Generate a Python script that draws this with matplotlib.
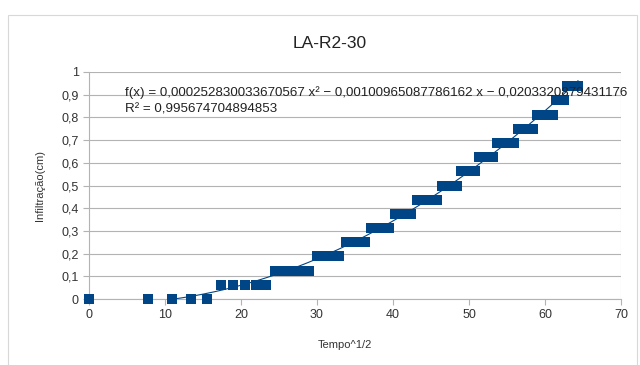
import matplotlib
matplotlib.use("Agg")
import matplotlib.pyplot as plt
from matplotlib.patches import Rectangle
import numpy as np

plt.rcParams['font.family'] = ['Liberation Sans', 'DejaVu Sans']

# data: x = Tempo^1/2, y = Infiltração (cm)
tempo_sqrt = [0, 7.75, 10.95, 13.42, 15.49, 17.32, 18.97, 20.49, 21.91, 23.24,
              24.49, 25.69, 26.83, 27.93, 28.98, 30.00, 30.98, 31.94, 32.86, 33.76,
              34.64, 35.50, 36.33, 37.15, 37.95, 38.73, 39.50, 40.25, 40.99, 41.71,
              42.43, 43.13, 43.82, 44.50, 45.17, 45.83, 46.48, 47.12, 47.75, 48.37,
              48.99, 49.60, 50.20, 50.79, 51.38, 51.96, 52.54, 53.10, 53.67, 54.22,
              54.77, 55.32, 55.86, 56.39, 56.92, 57.45, 57.97, 58.48, 58.99, 59.50,
              60.00, 60.50, 60.99, 61.48, 61.97, 62.45, 62.93, 63.40, 63.87, 64.34]
infiltracao = [0, 0, 0, 0, 0,
               0.0625, 0.0625, 0.0625, 0.0625, 0.0625,
               0.125, 0.125, 0.125, 0.125, 0.125,
               0.1875, 0.1875, 0.1875, 0.1875,
               0.25, 0.25, 0.25, 0.25,
               0.3125, 0.3125, 0.3125, 0.3125,
               0.375, 0.375, 0.375, 0.375,
               0.4375, 0.4375, 0.4375, 0.4375, 0.4375,
               0.5, 0.5, 0.5, 0.5,
               0.5625, 0.5625, 0.5625, 0.5625,
               0.625, 0.625, 0.625, 0.625,
               0.6875, 0.6875, 0.6875, 0.6875, 0.6875,
               0.75, 0.75, 0.75, 0.75, 0.75,
               0.8125, 0.8125, 0.8125, 0.8125, 0.8125,
               0.875, 0.875, 0.875,
               0.9375, 0.9375, 0.9375, 0.9375]
# trendline coefficients (as shown in the chart)
coef_a = 0.000252830033670567
coef_b = -0.00100965087786162
coef_c = -0.0203320879431176
eq_line1 = 'f(x) = 0,000252830033670567 x² − 0,00100965087786162 x − 0,0203320879431176'
eq_line2 = 'R² = 0,995674704894853'

x_ticks = [0, 10, 20, 30, 40, 50, 60, 70]
y_ticks = [0, 0.1, 0.2, 0.3, 0.4, 0.5, 0.6, 0.7, 0.8, 0.9, 1]

W, H = 640, 365
fig = plt.figure(figsize=(W / 100, H / 100), dpi=100)
fig.patch.set_facecolor('white')
fig.patches.append(Rectangle((8 / W, -0.01), 629 / W, (H - 15) / H + 0.01,
                             transform=fig.transFigure, fill=False,
                             edgecolor='#d8d8d8', linewidth=0.8))

ax = fig.add_axes([89 / W, 66 / H, 532 / W, 227 / H])
blue = '#004586'
ax.scatter(tempo_sqrt, infiltracao, marker='s', s=62, color=blue, zorder=3,
           clip_on=False, linewidths=0)
xt = np.linspace(min(tempo_sqrt), max(tempo_sqrt), 300)
yt = coef_a * xt ** 2 + coef_b * xt + coef_c
ax.plot(xt, yt, color=blue, linewidth=0.8, zorder=2)

ax.set_xlim(0, 70)
ax.set_ylim(0, 1)
ax.set_xticks(x_ticks)
ax.set_yticks(y_ticks)
ax.set_xticklabels([str(v) for v in x_ticks])
ax.set_yticklabels([('%g' % v).replace('.', ',') for v in y_ticks])
ax.grid(axis='y', color='#b3b3b3', linewidth=0.8)
ax.set_axisbelow(True)
for s in ['top', 'right']:
    ax.spines[s].set_visible(False)
ax.spines['left'].set_color('#b3b3b3')
ax.spines['bottom'].set_color('#b3b3b3')
ax.tick_params(axis='both', colors='#b3b3b3', labelcolor='#333333', labelsize=9,
               length=4, width=0.8)
ax.axvline(70, color='#d0d0d0', linewidth=0.8)

fig.text(330 / W, 1 - 43 / H, 'LA-R2-30', ha='center', va='center', fontsize=12.5,
         color='#222222')
ax.set_xlabel('Tempo^1/2', fontsize=8, color='#333333')
ax.xaxis.set_label_coords(0.481, -0.18)
ax.set_ylabel('Infiltração(cm)', fontsize=8, color='#333333', labelpad=12)

fig.text(125 / W, 1 - 93 / H, eq_line1, ha='left', va='center', fontsize=9.6,
         color='#222222')
fig.text(125 / W, 1 - 110 / H, eq_line2, ha='left', va='center', fontsize=9.6,
         color='#222222')

fig.savefig('out.png', dpi=100)
